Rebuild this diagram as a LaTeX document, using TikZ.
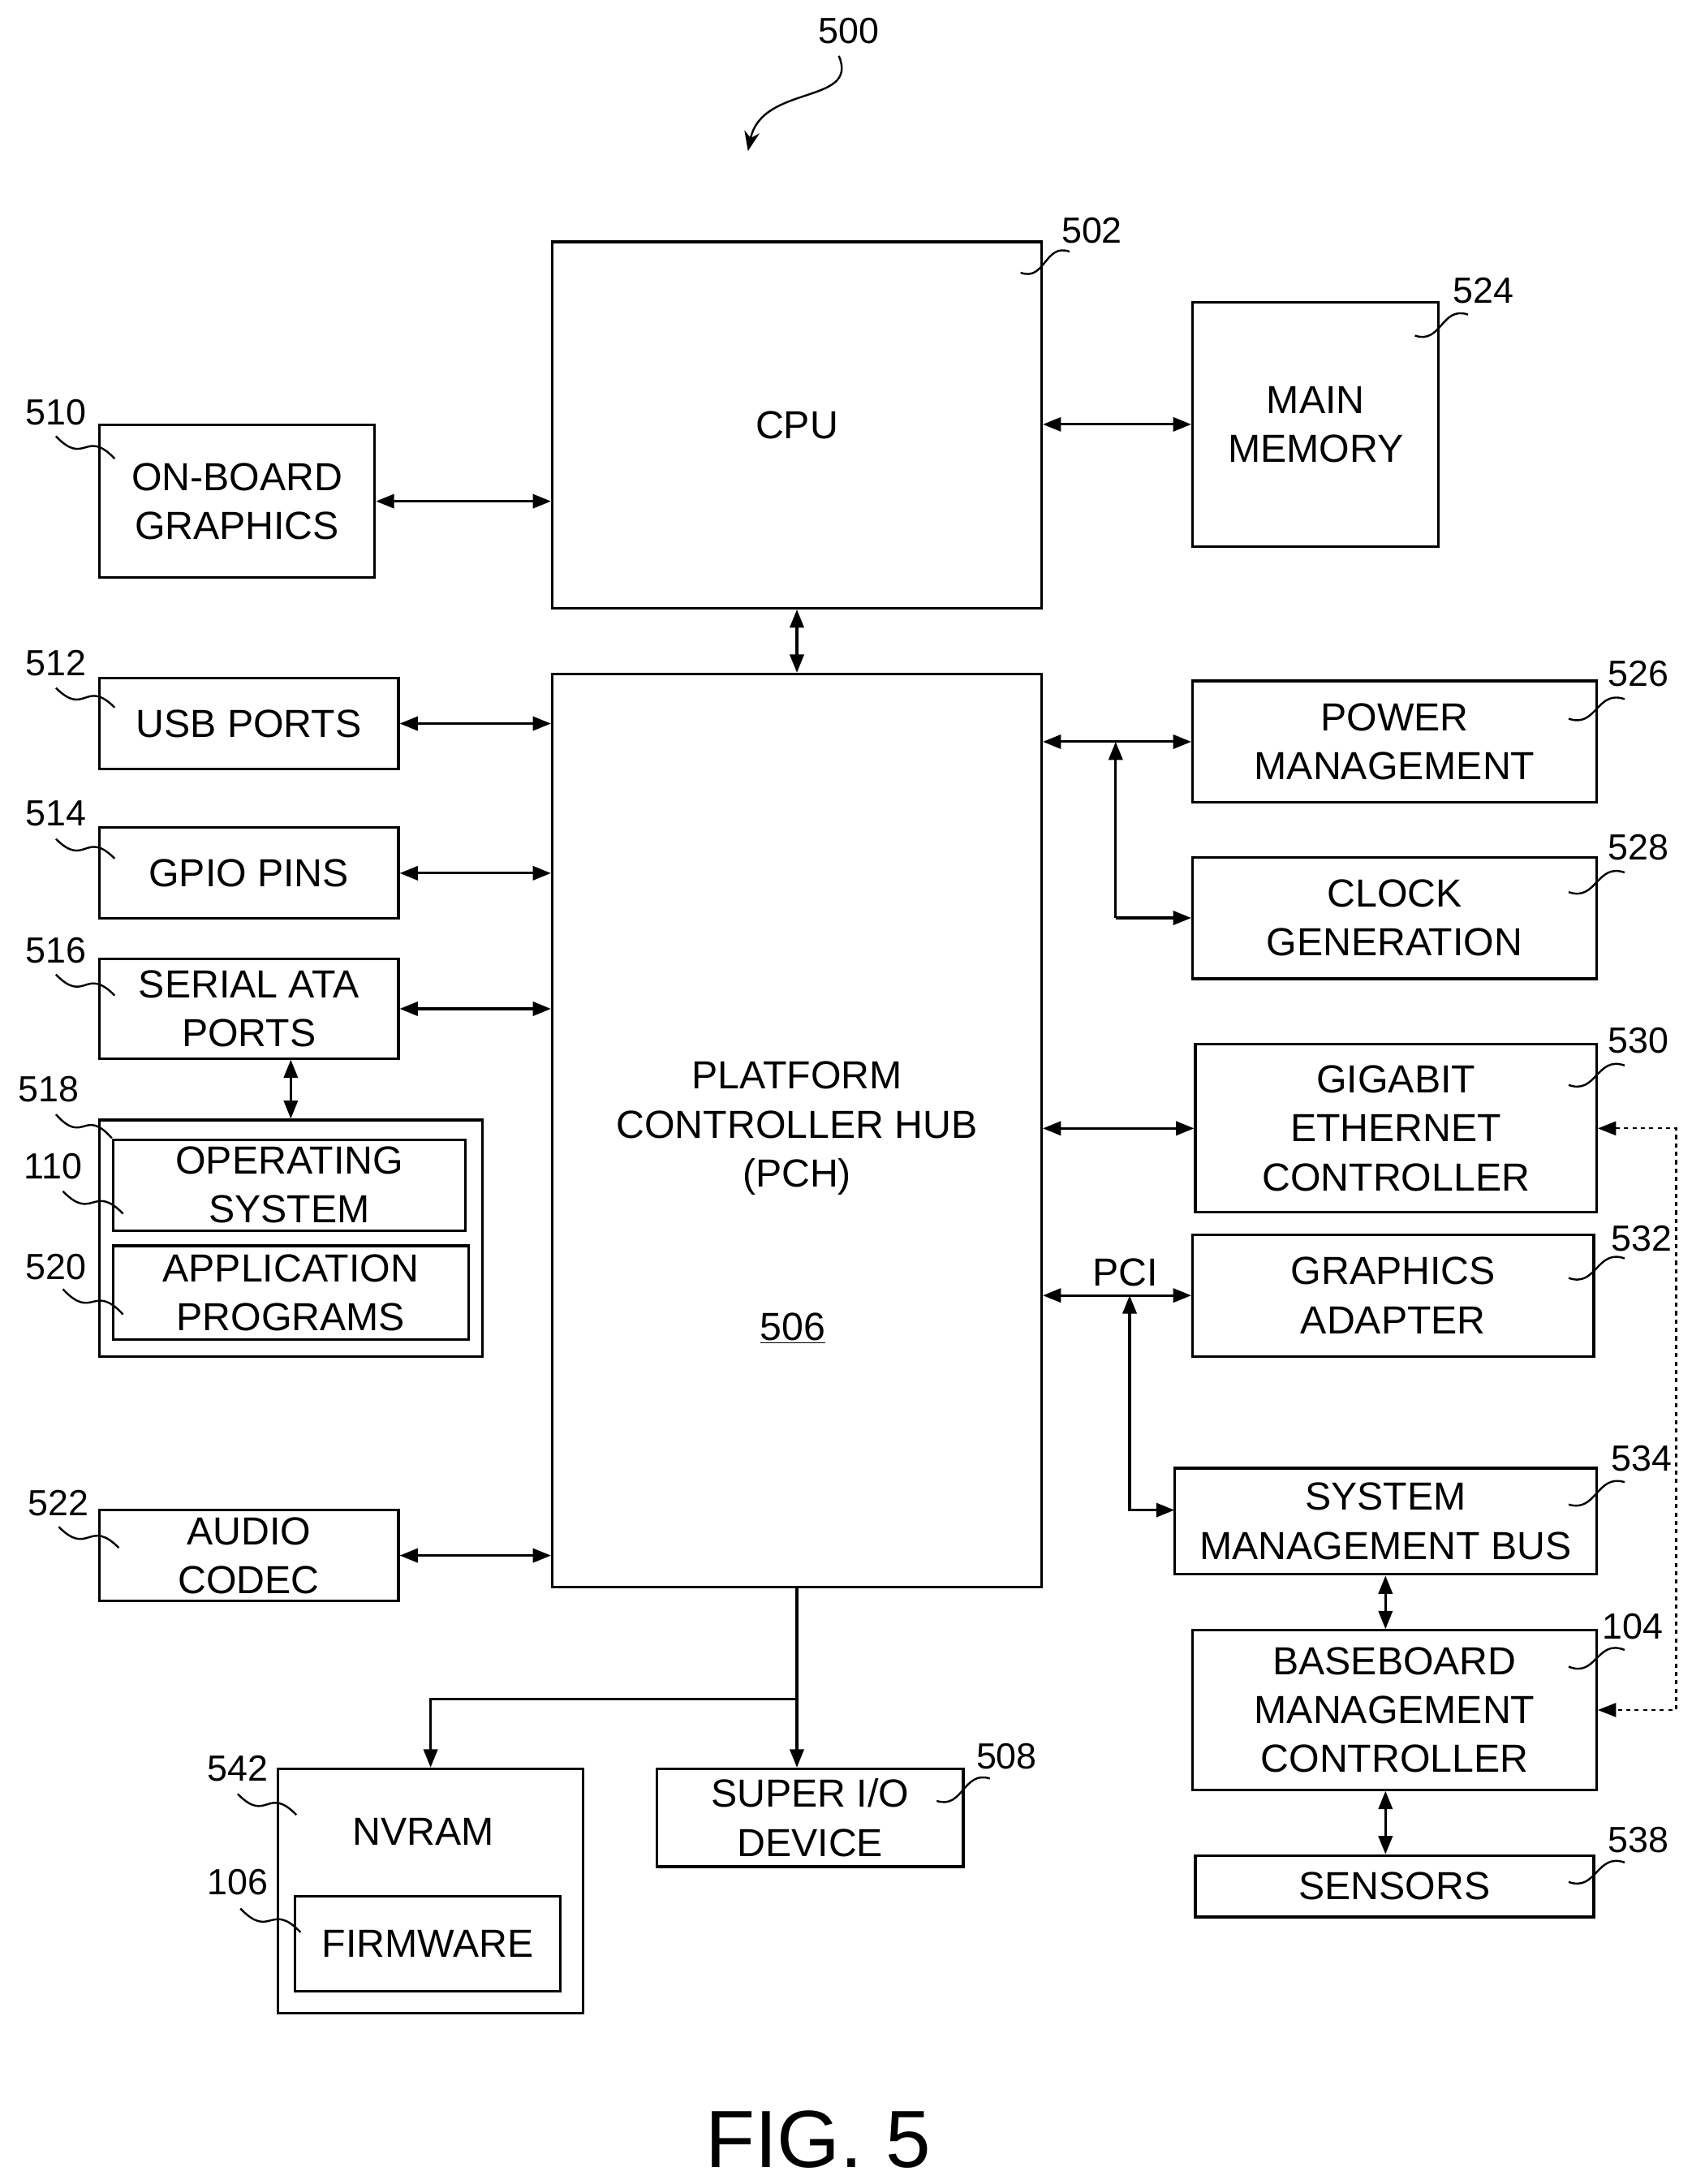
\documentclass[tikz,border=0pt]{standalone}
\usepackage{fontspec}
\setmainfont{Liberation Sans}
\usetikzlibrary{arrows.meta, positioning, calc}

\newcommand{\squig}[2]{\draw[lead] #1 .. controls ($#1!0.5!#2+(0,14)$) and ($#1!0.5!#2+(0,-14)$) .. #2;}

\begin{document}
\begin{tikzpicture}[x=1pt, y=-1pt,
  box/.style={draw, line width=1.8pt, align=center, inner sep=0pt,
    font=\fontsize{28}{35}\selectfont},
  num/.style={font=\fontsize{26}{30}\selectfont},
  lead/.style={line width=1.4pt},
  dbl/.style={line width=1.8pt, {Triangle[length=13pt,width=10pt]}-{Triangle[length=13pt,width=10pt]}},
  sgl/.style={line width=1.8pt, -{Triangle[length=13pt,width=10pt]}}]

\useasboundingbox (0,0) rectangle (1210,1562);

% Blocks
\node (cpu) [box, minimum width=350pt, minimum height=262pt] at (570,304) {CPU};
\node (mem) [box, minimum width=176pt, minimum height=175pt] at (941,303.5) {MAIN\\MEMORY};
\node (obg) [box, minimum width=197pt, minimum height=109pt] at (169.5,358.5) {ON-BOARD\\GRAPHICS};
\node (pch) [box, minimum width=350pt, minimum height=653pt] at (570,808.5) {};
\node (pchtext) [box, draw=none] at (570,807) {PLATFORM\\CONTROLLER HUB\\(PCH)};
\node (pchnum) [box, draw=none] at (567,950) {\underline{506}};

\node (usb) [box, minimum width=214pt, minimum height=65pt] at (178,517.5) {USB PORTS};
\node (gpio) [box, minimum width=214pt, minimum height=65pt] at (178,624.5) {GPIO PINS};
\node (sata) [box, minimum width=214pt, minimum height=71pt] at (178,721.5) {SERIAL ATA\\PORTS};
\node (osbox) [box, minimum width=274pt, minimum height=169pt] at (208,885.5) {};
\node (os) [box, minimum width=252pt, minimum height=65pt] at (207,847.5) {OPERATING\\SYSTEM};
\node (app) [box, minimum width=254pt, minimum height=67pt] at (208,924.5) {APPLICATION\\PROGRAMS};
\node (audio) [box, minimum width=214pt, minimum height=65pt] at (178,1112.5) {AUDIO\\CODEC};

\node (pm) [box, minimum width=289pt, minimum height=87pt] at (997.5,530.5) {POWER\\MANAGEMENT};
\node (clk) [box, minimum width=289pt, minimum height=87pt] at (997.5,656.5) {CLOCK\\GENERATION};
\node (gbe) [box, minimum width=287pt, minimum height=120pt] at (998.5,807) {GIGABIT\\ETHERNET\\CONTROLLER};
\node (gfx) [box, minimum width=287pt, minimum height=87pt] at (996.5,926.5) {GRAPHICS\\ADAPTER};
\node (smb) [box, minimum width=302pt, minimum height=76pt] at (991,1088) {SYSTEM\\MANAGEMENT BUS};
\node (bmc) [box, minimum width=289pt, minimum height=114pt] at (997.5,1223) {BASEBOARD\\MANAGEMENT\\CONTROLLER};
\node (sens) [box, minimum width=285pt, minimum height=44pt] at (997.5,1349) {SENSORS};

\node (nvram) [box, minimum width=218pt, minimum height=175pt] at (308,1352.5) {};
\node (nvtext) [box, draw=none] at (303,1310) {NVRAM};
\node (fw) [box, minimum width=190pt, minimum height=68pt] at (306,1390) {FIRMWARE};
\node (sio) [box, minimum width=219pt, minimum height=70pt] at (579.5,1300) {SUPER I/O\\DEVICE};

\node (fig) [font=\fontsize{58}{66}\selectfont] at (585,1530) {FIG. 5};

% Reference numerals
\node (n500) [num] at (607,22) {500};
\node (n502) [num] at (781,165) {502};
\node (n524) [num] at (1061,208) {524};
\node (n510) [num] at (40,295) {510};
\node (n512) [num] at (40,474) {512};
\node (n514) [num] at (40,582) {514};
\node (n516) [num] at (40,680) {516};
\node (n518) [num] at (35,779) {518};
\node (n110) [num] at (38,834) {110};
\node (n520) [num] at (40,906) {520};
\node (n522) [num] at (42,1075) {522};
\node (n526) [num] at (1172,482) {526};
\node (n528) [num] at (1172,606) {528};
\node (n530) [num] at (1172,744) {530};
\node (n532) [num] at (1174,886) {532};
\node (n534) [num] at (1174,1043) {534};
\node (n104) [num] at (1168,1163) {104};
\node (n538) [num] at (1172,1316) {538};
\node (n542) [num] at (170,1265) {542};
\node (n106) [num] at (170,1346) {106};
\node (n508) [num] at (720,1256) {508};
\node (pci) [box, draw=none] at (805,910) {PCI};

% Leaders
\draw[lead, -{Stealth[length=14pt,width=11pt]}] (600,40) .. controls (615,75) and (545,60) .. (535,108);
\squig{(730,195)}{(765,180)}
\squig{(1012,240)}{(1050,225)}
\squig{(1122,514)}{(1162,500)}
\squig{(1122,638)}{(1162,624)}
\squig{(1122,776)}{(1162,762)}
\squig{(1122,914)}{(1162,900)}
\squig{(1122,1076)}{(1162,1060)}
\squig{(1122,1192)}{(1162,1180)}
\squig{(1122,1346)}{(1162,1332)}
\squig{(670,1288)}{(708,1272)}
\squig{(40,312)}{(82,328)}
\squig{(40,492)}{(82,506)}
\squig{(40,600)}{(82,614)}
\squig{(40,697)}{(82,712)}
\squig{(40,797)}{(80,814)}
\squig{(45,852)}{(88,868)}
\squig{(45,922)}{(88,940)}
\squig{(42,1092)}{(85,1107)}
\squig{(170,1283)}{(212,1298)}
\squig{(172,1365)}{(215,1382)}

% Connectors
\coordinate (pmj) at (798,530.5);
\coordinate (pcij) at (808,926.5);
\coordinate (smbin) at (840,1080);
\coordinate (split) at (570,1215);

\draw[dbl] (cpu.east |- mem.west) -- (mem.west);
\draw[dbl] (obg.east) -- (obg.east -| cpu.west);
\draw[dbl] (cpu.south) -- (pch.north);
\draw[dbl] (usb.east) -- (usb.east -| pch.west);
\draw[dbl] (gpio.east) -- (gpio.east -| pch.west);
\draw[dbl] (sata.east) -- (sata.east -| pch.west);
\draw[dbl] (audio.east) -- (audio.east -| pch.west);
\draw[dbl] (osbox.north |- sata.south) -- (osbox.north);

\draw[dbl] (pch.east |- pm.west) -- (pm.west);
\draw[sgl] (clk.west -| pmj) -- (pmj);
\draw[sgl] (clk.west -| pmj) -- (clk.west);
\draw[dbl] (pch.east |- gbe.west) -- (gbe.west);
\draw[dbl] (pch.east |- gfx.west) -- (gfx.west);
\draw[dbl] (pcij) |- (smbin);
\draw[dbl] (smb.south) -- (smb.south |- bmc.north);
\draw[dbl] (bmc.south -| smb.south) -- (sens.north -| smb.south);
\draw[dbl, dash pattern=on 3pt off 3pt, line width=1.2pt] (gbe.east) -- ++(56,0) |- (bmc.east);

\draw[sgl] (pch.south) -- (sio.north -| pch.south);
\draw[sgl] (split) -| (nvram.north);

\end{tikzpicture}
\end{document}
